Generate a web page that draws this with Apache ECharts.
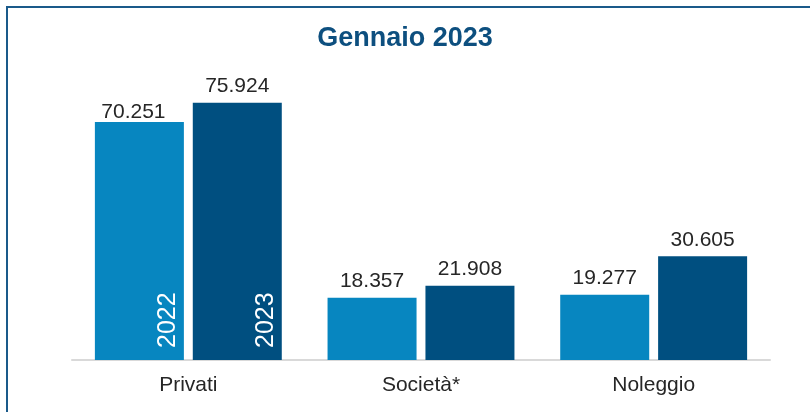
<!DOCTYPE html>
<html>
<head>
<meta charset="utf-8">
<script src="https://cdn.jsdelivr.net/npm/echarts@6/dist/echarts.min.js"></script>
<style>
html,body{margin:0;padding:0;background:#fff;}
#wrap{position:relative;width:810px;height:412px;overflow:hidden;}
#frame{position:absolute;left:6px;top:6px;width:900px;height:500px;border-left:2px solid #1a5a8a;border-top:2px solid #1a5a8a;}
#chart{position:absolute;left:0;top:0;width:810px;height:412px;}
</style>
</head>
<body>
<div id="wrap"><div id="frame"></div><div id="chart"></div></div>
<script>
const title = 'Gennaio 2023';
const categories = ['Privati', 'Società*', 'Noleggio'];
const seriesNames = ['2022', '2023'];
const values2022 = [70251, 18357, 19277];
const values2023 = [75924, 21908, 30605];

const fmt = v => String(v).replace(/\B(?=(\d{3})+(?!\d))/g, '.');
const colors = ['#0786c0', '#004f80'];
const font = 'Liberation Sans, Arial, sans-serif';

function valueSeries(name, vals, color, firstOffset) {
  return {
    name, type: 'bar', xAxisIndex: 0, yAxisIndex: 0,
    data: vals.map((v, i) => (i === 0 && firstOffset) ? { value: v, label: { offset: firstOffset } } : v),
    barWidth: 89, barGap: '10%',
    itemStyle: { color },
    label: { show: true, position: 'top', distance: 6, color: '#262626', fontSize: 21, fontFamily: font,
             formatter: p => fmt(p.value) },
    silent: true
  };
}
function nameSeries(name, vals) {
  return {
    name: name + '_lbl', type: 'bar', xAxisIndex: 1, yAxisIndex: 0,
    data: vals.map((v, i) => i === 0 ? {
      value: v,
      label: { show: true, position: 'insideBottom', rotate: 90, align: 'left', verticalAlign: 'middle',
               distance: 8, offset: [4, 29], color: '#ffffff', fontSize: 25, fontFamily: font,
               formatter: name }
    } : { value: v, label: { show: false } }),
    barWidth: 89, barGap: '10%',
    itemStyle: { color: 'rgba(0,0,0,0)' },
    silent: true
  };
}

const chart = echarts.init(document.getElementById('chart'), null, { renderer: 'canvas' });
chart.setOption({
  animation: false,
  backgroundColor: 'transparent',
  title: { text: title, left: 'center', top: 20, textStyle: { color: '#0d4f7f', fontSize: 27, fontWeight: 'bold', fontFamily: font } },
  grid: { left: 72, right: 40, top: 89, bottom: 52 },
  xAxis: [
    { type: 'category', data: categories, position: 'bottom',
      axisLine: { lineStyle: { color: '#d9d9d9', width: 2 } }, axisTick: { show: false },
      axisLabel: { color: '#262626', fontSize: 21, fontFamily: font, margin: 15 } },
    { type: 'category', data: categories, position: 'top', show: false }
  ],
  yAxis: { type: 'value', min: 0, max: 80000, show: false, splitLine: { show: false } },
  series: [
    valueSeries(seriesNames[0], values2022, colors[0], [-6, 7]),
    valueSeries(seriesNames[1], values2023, colors[1], null),
    nameSeries(seriesNames[0], values2022),
    nameSeries(seriesNames[1], values2023)
  ]
});
</script>
</body>
</html>
